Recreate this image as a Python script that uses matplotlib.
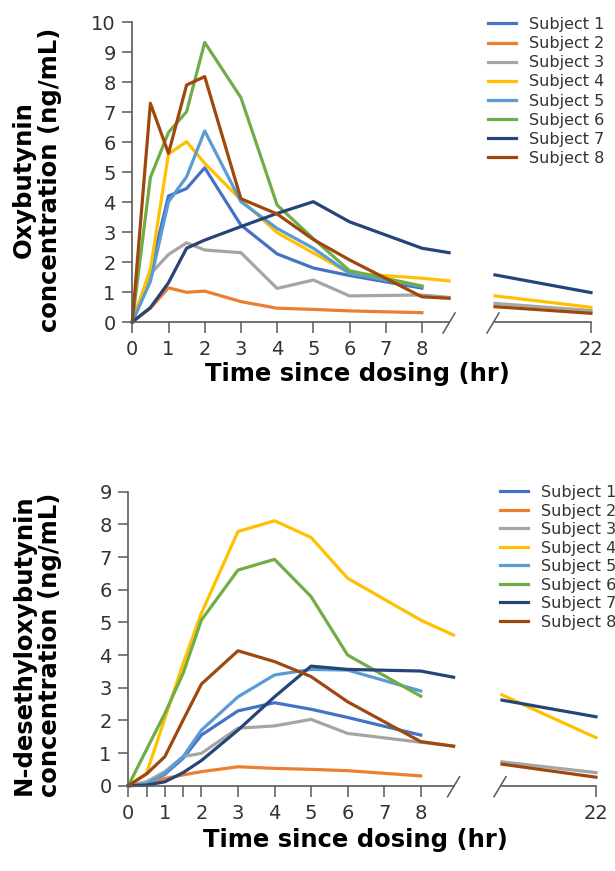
import matplotlib.pyplot as plt
from matplotlib.lines import Line2D

# sampling times (hr) shown left of the axis break
times = [0, 0.5, 1, 1.5, 2, 3, 4, 5, 6, 8]
# line ends at the break and the visible late section (right of the break)
t_cut_top = 8.75
t_cut_bot = 8.9
t_late = [19.4, 22]

subjects = ["Subject 1", "Subject 2", "Subject 3", "Subject 4",
            "Subject 5", "Subject 6", "Subject 7", "Subject 8"]
colors = ["#4472C4", "#ED7D31", "#A5A5A5", "#FFC000",
          "#5B9BD5", "#70AD47", "#264478", "#9E480E"]

# Oxybutynin (ng/mL)
oxy_1 = [0, 1.7, 4.2, 4.45, 5.14, 3.23, 2.27, 1.8, 1.55, 1.13]
oxy_2 = [0, 0.46, 1.14, 0.99, 1.03, 0.68, 0.46, 0.42, 0.37, 0.31]
oxy_3 = [0, 1.6, 2.25, 2.64, 2.4, 2.31, 1.12, 1.4, 0.87, 0.9]
oxy_4 = [0, 1.75, 5.6, 6.01, 5.29, 4.07, 2.98, 2.3, 1.63, 1.46]
oxy_5 = [0, 1.35, 4.01, 4.84, 6.37, 4.01, 3.12, 2.46, 1.62, 1.18]
oxy_6 = [0, 4.82, 6.32, 7.01, 9.32, 7.48, 3.9, 2.78, 1.71, 1.2]
oxy_7 = [0, 0.48, 1.31, 2.46, 2.73, 3.18, 3.62, 4.01, 3.34, 2.46]
oxy_8 = [0, 7.29, 5.62, 7.9, 8.18, 4.11, 3.6, 2.75, 2.07, 0.84]
# value where the line meets the break (None = series stops at 8 h)
oxy_cut = [None, None, 0.82, 1.37, None, None, 2.31, 0.79]
oxy_late = [None, None, [0.62, 0.38], [0.87, 0.49], None, None,
            [1.57, 0.98], [0.51, 0.29]]

# N-desethyloxybutynin (ng/mL)
des_1 = [0, 0.03, 0.35, 0.84, 1.55, 2.29, 2.54, 2.34, 2.09, 1.55]
des_2 = [0, 0.05, 0.22, 0.33, 0.43, 0.58, 0.53, 0.5, 0.46, 0.3]
des_3 = [0, 0.12, 0.43, 0.89, 0.99, 1.76, 1.83, 2.03, 1.6, 1.33]
des_4 = [0, 0.38, 2.06, 3.74, 5.28, 7.78, 8.11, 7.6, 6.35, 5.07]
des_5 = [0, 0.05, 0.38, 0.89, 1.7, 2.72, 3.39, 3.56, 3.54, 2.9]
des_6 = [0, 1.11, 2.21, 3.44, 5.07, 6.6, 6.93, 5.79, 4.0, 2.74]
des_7 = [0, 0.02, 0.12, 0.4, 0.77, 1.7, 2.72, 3.66, 3.56, 3.51]
des_8 = [0, 0.36, 0.89, 2.01, 3.11, 4.13, 3.8, 3.34, 2.57, 1.35]
des_cut = [None, None, 1.21, 4.61, None, None, 3.32, 1.21]
des_late = [None, None, [0.73, 0.4], [2.78, 1.47], None, None,
            [2.62, 2.11], [0.66, 0.26]]

oxy = [oxy_1, oxy_2, oxy_3, oxy_4, oxy_5, oxy_6, oxy_7, oxy_8]
des = [des_1, des_2, des_3, des_4, des_5, des_6, des_7, des_8]

W, H = 615, 871
fig = plt.figure(figsize=(W / 100, H / 100), dpi=100)
axis_col = "#595959"
text_col = "#333333"


def px_axes(x0, x1, y0, y1):
    # pixel box measured from the top-left corner of the figure
    return fig.add_axes([x0 / W, 1 - y1 / H, (x1 - x0) / W, (y1 - y0) / H])


def slash(xc, yc):
    fig.add_artist(Line2D([(xc - 6) / W, (xc + 6) / W],
                          [1 - (yc + 10) / H, 1 - (yc - 10) / H],
                          transform=fig.transFigure, color=axis_col, lw=1.1))


def style(ax, show_left=True):
    for s in ["top", "right"]:
        ax.spines[s].set_visible(False)
    ax.spines["bottom"].set_color(axis_col)
    ax.spines["bottom"].set_linewidth(1.2)
    if show_left:
        ax.spines["left"].set_color(axis_col)
        ax.spines["left"].set_linewidth(1.2)
    else:
        ax.spines["left"].set_visible(False)
        ax.set_yticks([])
    ax.tick_params(axis="x", length=8, width=1.1, color=axis_col, pad=5,
                   labelsize=14, labelcolor=text_col)
    ax.tick_params(axis="y", length=7, width=1.1, color=axis_col, pad=5,
                   labelsize=14, labelcolor=text_col)


def panel(box_left, box_right, y_top, y_bot, data, cut, late, t_cut,
          ymax, xticks, xticklabels, ylabel, ylabel_xy, legend_xy,
          xlabel_xy, row_gap):
    ax = px_axes(box_left[0], box_left[1], y_top, y_bot)
    ax2 = px_axes(box_right[0], box_right[1], y_top, y_bot)
    lines = []
    for i in range(len(subjects)):
        xs = list(times)
        ys = list(data[i])
        if cut[i] is not None:
            xs.append(t_cut)
            ys.append(cut[i])
        ln, = ax.plot(xs, ys, color=colors[i], lw=2.3, clip_on=False)
        lines.append(ln)
        if late[i] is not None:
            ax2.plot(t_late, late[i], color=colors[i], lw=2.3, clip_on=False)
    ax.set_xlim(0, t_cut)
    ax.set_ylim(0, ymax)
    ax.set_yticks(range(0, ymax + 1))
    ax.set_xticks(xticks)
    ax.set_xticklabels(xticklabels)
    ax2.set_xlim(t_late[0], t_late[1])
    ax2.set_ylim(0, ymax)
    ax2.set_xticks([22])
    style(ax)
    style(ax2, show_left=False)
    fig.text(ylabel_xy[0] / W, 1 - ylabel_xy[1] / H, ylabel, rotation=90,
             ha="center", va="center", multialignment="center",
             fontsize=17.5, fontweight="bold", linespacing=1.15)
    fig.text(xlabel_xy[0] / W, 1 - xlabel_xy[1] / H,
             "Time since dosing (hr)", ha="center", va="center",
             fontsize=17.5, fontweight="bold")
    fig.legend(lines, subjects, loc="upper left",
               bbox_to_anchor=(legend_xy[0] / W, 1 - legend_xy[1] / H),
               frameon=False, fontsize=11.5, handlelength=1.75,
               handletextpad=0.8, labelspacing=row_gap, borderpad=0,
               borderaxespad=0, labelcolor=text_col)
    slash(box_left[1], y_bot + 1)
    slash(box_right[0] - 2, y_bot + 1)
    return ax, ax2


panel((132.3, 132.3 + t_cut_top * 36.2), (495, 591), 22, 322,
      oxy, oxy_cut, oxy_late, t_cut_top, 10,
      list(range(0, 9)), [str(v) for v in range(0, 9)],
      "Oxybutynin\nconcentration (ng/mL)", (37, 180), (488, 17),
      (357, 374), 0.26)

bot_ticks = [0, 0.5, 1, 1.5, 2, 3, 4, 5, 6, 7, 8]
bot_labels = ["0", "", "1", "", "2", "3", "4", "5", "6", "7", "8"]
panel((128.3, 128.3 + t_cut_bot * 36.55), (502, 596), 491.7, 785.7,
      des, des_cut, des_late, t_cut_bot, 9,
      bot_ticks, bot_labels,
      "N-desethyloxybutynin\nconcentration (ng/mL)", (37, 645), (500, 485),
      (355, 840), 0.22)

fig.savefig("out.png", dpi=100)
